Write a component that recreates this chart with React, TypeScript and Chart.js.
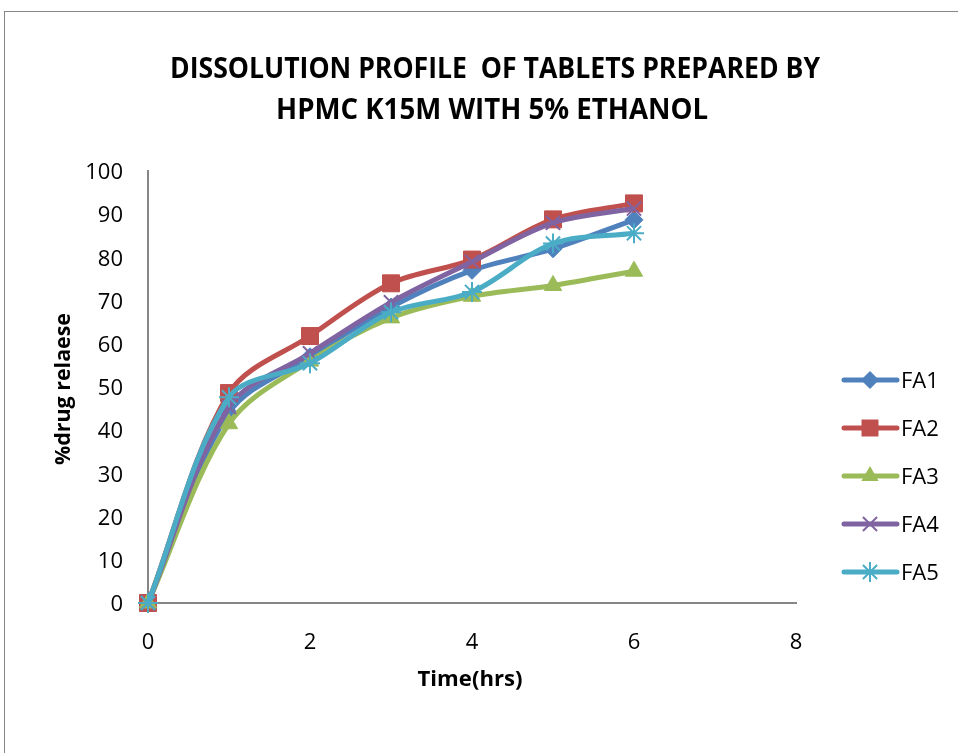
import React, { useEffect, useRef } from 'react';
import { Chart, registerables } from 'chart.js';

Chart.register(...registerables);

const TIME_HRS = [0, 1, 2, 3, 4, 5, 6];
const FA1 = [0, 44, 57, 68.5, 77, 82, 88.7];
const FA2 = [0, 48.6, 61.8, 74, 79.5, 88.8, 92.5];
const FA3 = [0, 41.5, 56, 66, 71, 73.5, 76.8];
const FA4 = [0, 45.4, 57.8, 69.6, 79, 88, 91.3];
const FA5 = [0, 47.6, 55.5, 67.3, 72, 83.2, 85.6];

const SERIES_NAMES = ['FA1', 'FA2', 'FA3', 'FA4', 'FA5'];
const SERIES_VALUES = [FA1, FA2, FA3, FA4, FA5];
const SERIES_COLORS = ['#4F81BD', '#C0504D', '#9BBB59', '#8064A2', '#4BACC6'];
const POINT_STYLES = ['rectRot', 'rect', 'triangle', 'crossRot', 'star'];
const POINT_RADII = [9, 12, 10, 10, 10];

const TITLE_LINES = ['DISSOLUTION PROFILE  OF TABLETS PREPARED BY', 'HPMC K15M WITH 5% ETHANOL'];
const X_TITLE = 'Time(hrs)';
const Y_TITLE = '%drug relaese';
const X_MIN = 0, X_MAX = 8, X_STEP = 2;
const Y_MIN = 0, Y_MAX = 100, Y_STEP = 10;

const FONT = '"Open Sans", "DejaVu Sans", sans-serif';

function drawMarker(ctx: CanvasRenderingContext2D, style: string, x: number, y: number, r: number, color: string) {
  ctx.save();
  ctx.fillStyle = color;
  ctx.strokeStyle = color;
  ctx.lineWidth = 2;
  ctx.beginPath();
  if (style === 'rectRot') {
    ctx.moveTo(x, y - r); ctx.lineTo(x + r, y); ctx.lineTo(x, y + r); ctx.lineTo(x - r, y); ctx.closePath();
    ctx.fill();
  } else if (style === 'rect') {
    const s = Math.SQRT1_2 * r;
    ctx.rect(x - s, y - s, 2 * s, 2 * s);
    ctx.fill();
  } else if (style === 'triangle') {
    let a = 0;
    ctx.moveTo(x + Math.sin(a) * r, y - Math.cos(a) * r);
    a += (2 * Math.PI) / 3;
    ctx.lineTo(x + Math.sin(a) * r, y - Math.cos(a) * r);
    a += (2 * Math.PI) / 3;
    ctx.lineTo(x + Math.sin(a) * r, y - Math.cos(a) * r);
    ctx.closePath();
    ctx.fill();
  } else if (style === 'crossRot' || style === 'star') {
    const d = Math.SQRT1_2 * r;
    ctx.moveTo(x - d, y - d); ctx.lineTo(x + d, y + d);
    ctx.moveTo(x - d, y + d); ctx.lineTo(x + d, y - d);
    if (style === 'star') {
      ctx.moveTo(x, y - r); ctx.lineTo(x, y + r);
      ctx.moveTo(x - r, y); ctx.lineTo(x + r, y);
    }
    ctx.stroke();
  }
  ctx.restore();
}

function fitText(ctx: CanvasRenderingContext2D, text: string, cx: number, baseline: number, font: string, targetW: number) {
  ctx.save();
  ctx.font = font;
  const w = ctx.measureText(text).width;
  const sx = targetW / w;
  ctx.translate(cx, baseline);
  ctx.scale(sx, 1);
  ctx.textAlign = 'center';
  ctx.textBaseline = 'alphabetic';
  ctx.fillText(text, 0, 0);
  ctx.restore();
}

const decorPlugin = {
  id: 'decor',
  afterDraw(chart: any) {
    const ctx: CanvasRenderingContext2D = chart.ctx;
    ctx.save();
    // outer frame
    ctx.strokeStyle = '#868686';
    ctx.lineWidth = 1;
    ctx.strokeRect(4.5, 11.5, 2000, 2000);

    ctx.fillStyle = '#000';
    // title
    fitText(ctx, TITLE_LINES[0], 495, 78, `bold 29px ${FONT}`, 650);
    fitText(ctx, TITLE_LINES[1], 492, 119, `bold 29px ${FONT}`, 432);

    // x title
    fitText(ctx, X_TITLE, 470, 686, `bold 21px ${FONT}`, 105);

    // y title
    ctx.save();
    ctx.translate(70, 389);
    ctx.rotate(-Math.PI / 2);
    fitText(ctx, Y_TITLE, 0, 0, `bold 21px ${FONT}`, 152);
    ctx.restore();

    // legend
    SERIES_NAMES.forEach((name, i) => {
      const y = 380 + i * 48;
      ctx.save();
      ctx.strokeStyle = SERIES_COLORS[i];
      ctx.lineWidth = 5;
      ctx.lineCap = 'round';
      ctx.beginPath();
      ctx.moveTo(844, y);
      ctx.lineTo(897, y);
      ctx.stroke();
      ctx.restore();
      drawMarker(ctx, POINT_STYLES[i], 870, y, POINT_RADII[i], SERIES_COLORS[i]);
      ctx.save();
      ctx.fillStyle = '#000';
      ctx.font = `22px ${FONT}`;
      ctx.textAlign = 'left';
      ctx.textBaseline = 'middle';
      ctx.fillText(name, 901, y + 2);
      ctx.restore();
    });
    ctx.restore();
  },
};

export default function App() {
  const canvasRef = useRef<HTMLCanvasElement | null>(null);

  useEffect(() => {
    const canvas = canvasRef.current;
    if (!canvas) return;
    const datasets = SERIES_NAMES.map((name, i) => ({
      label: name,
      data: TIME_HRS.map((t, j) => ({ x: t, y: SERIES_VALUES[i][j] })),
      borderColor: SERIES_COLORS[i],
      backgroundColor: SERIES_COLORS[i],
      pointBackgroundColor: SERIES_COLORS[i],
      pointBorderColor: SERIES_COLORS[i],
      pointBorderWidth: POINT_STYLES[i] === 'crossRot' || POINT_STYLES[i] === 'star' ? 2 : 1,
      pointStyle: POINT_STYLES[i],
      pointRadius: POINT_RADII[i],
      borderWidth: 5,
      tension: 0.33,
      fill: false,
      clip: false,
      order: SERIES_NAMES.length - i,
    }));

    const chart = new Chart(canvas, {
      type: 'line',
      data: { datasets },
      plugins: [decorPlugin],
      options: {
        animation: false,
        responsive: true,
        maintainAspectRatio: false,
        layout: { padding: { top: 171, right: 162, left: 0, bottom: 0 } },
        plugins: {
          legend: { display: false },
          title: { display: false },
          tooltip: { enabled: false },
        },
        scales: {
          x: {
            type: 'linear',
            min: X_MIN,
            max: X_MAX,
            grid: { display: false, drawTicks: false },
            border: { display: true, color: '#868686', width: 2 },
            ticks: {
              stepSize: X_STEP,
              padding: 27,
              color: '#000',
              font: { family: FONT, size: 22 },
            },
            afterFit: (s: any) => { s.height = 150; },
          },
          y: {
            type: 'linear',
            min: Y_MIN,
            max: Y_MAX,
            grid: { display: false, drawTicks: false },
            border: { display: true, color: '#868686', width: 2 },
            ticks: {
              stepSize: Y_STEP,
              padding: 25,
              labelOffset: 2,
              color: '#000',
              font: { family: FONT, size: 22 },
            },
            afterFit: (s: any) => { s.width = 148; },
          },
        },
      },
    } as any);
    return () => chart.destroy();
  }, []);

  return (
    <div style={{ position: 'fixed', left: 0, top: 0, width: 958, height: 753, background: '#fff' }}>
      <canvas ref={canvasRef} />
    </div>
  );
}
